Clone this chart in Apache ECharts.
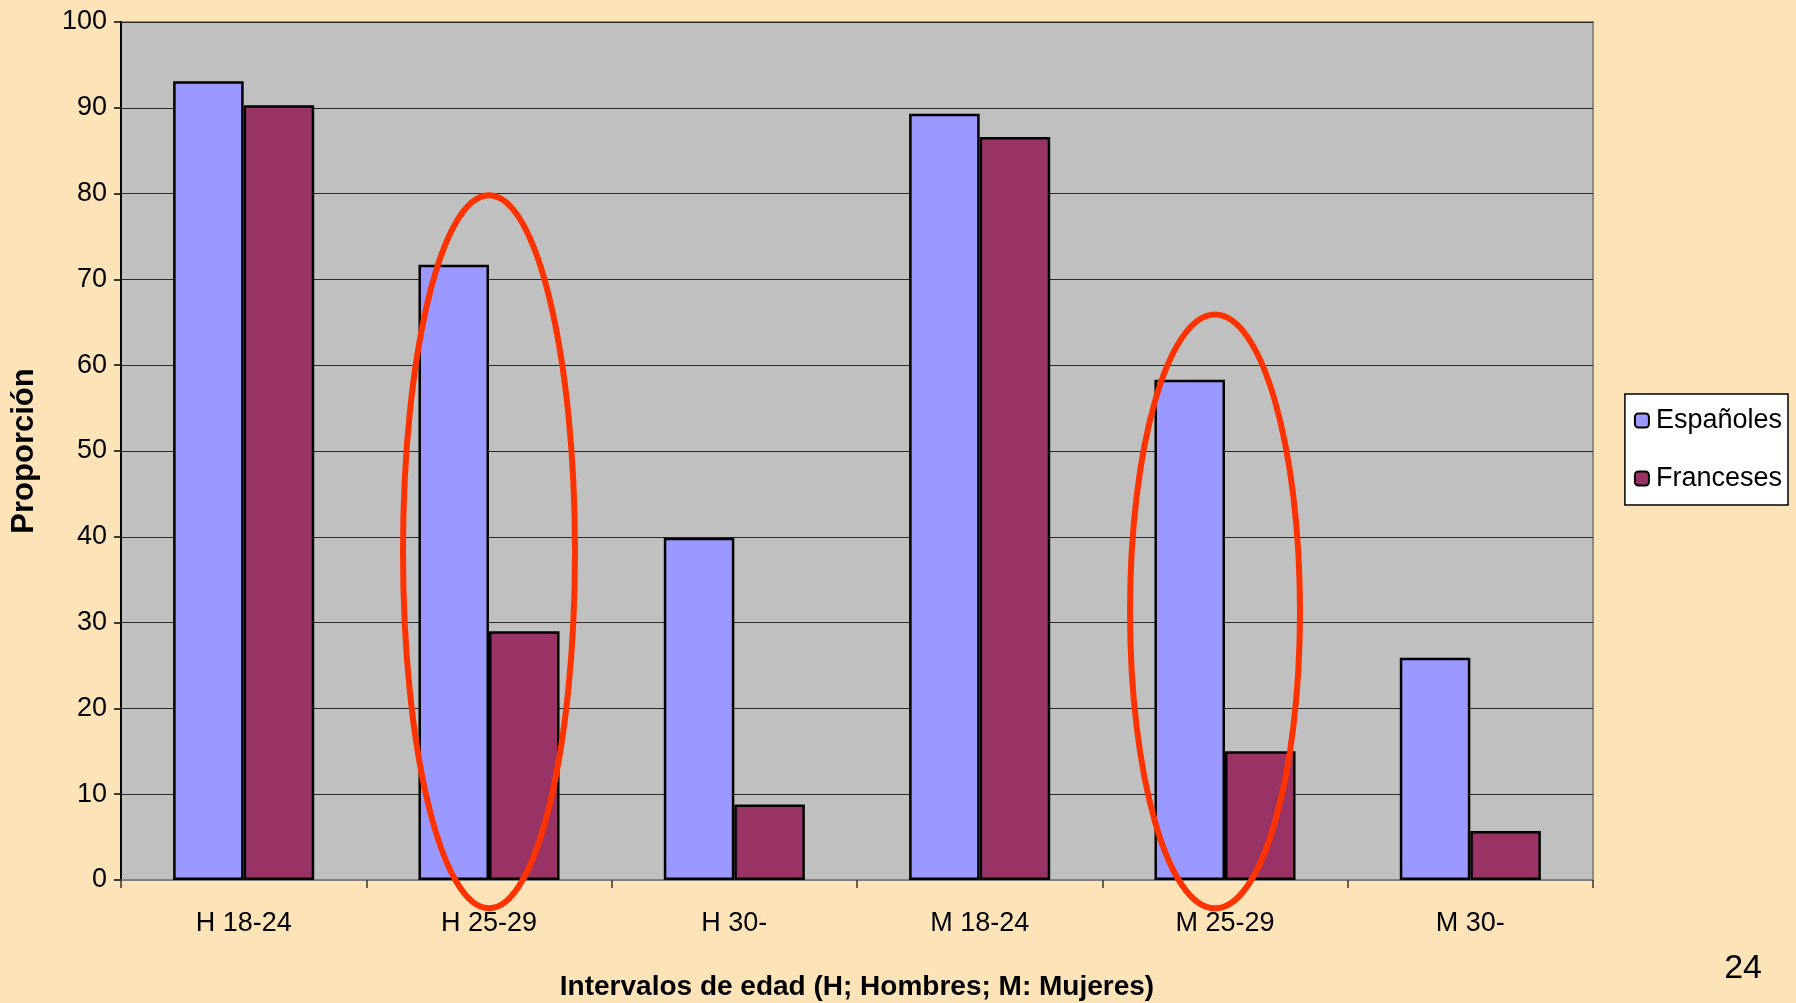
<!DOCTYPE html>
<html>
<head>
<meta charset="utf-8">
<script src="https://cdn.jsdelivr.net/npm/echarts@6/dist/echarts.min.js"></script>
<style>
  html, body { margin: 0; padding: 0; background: #FCE4B8; }
  #chart { width: 1796px; height: 1003px; }
</style>
</head>
<body>
<div id="chart"></div>
<script>
// Age groups (H = Hombres, M = Mujeres)
const categories = ['H 18-24', 'H 25-29', 'H 30-', 'M 18-24', 'M 25-29', 'M 30-'];
// Share of each group, in percent
const espanoles = [93.1, 71.7, 39.9, 89.3, 58.3, 25.9];
const franceses = [90.3, 29.0, 8.8, 86.6, 15.0, 5.7];
const seriesNames = ['Españoles', 'Franceses'];

// Highlight ellipses: category index, value range covered, half width in px, x shift in px
const highlights = [
  { cat: 1, top: 79.8, bottom: -3.3, rx: 86, dx: 0 },
  { cat: 4, top: 65.9, bottom: -3.3, rx: 85, dx: -10 }
];

const chart = echarts.init(document.getElementById('chart'));
const font = 'Liberation Sans, Arial, sans-serif';

chart.setOption({
  backgroundColor: '#FCE4B8',
  animation: false,
  textStyle: { fontFamily: font, color: '#000' },
  grid: {
    left: 121, right: 203, top: 22, bottom: 123,
    containLabel: false, outerBoundsMode: 'none',
    show: true, backgroundColor: '#C0C0C0', borderColor: '#8A8A8A', borderWidth: 2
  },
  legend: {
    orient: 'vertical',
    right: 8, top: 394,
    backgroundColor: '#FFFFFF',
    borderColor: '#000', borderWidth: 1.5,
    padding: [13, 6, 13, 9],
    itemWidth: 14, itemHeight: 14, itemGap: 31,
    textStyle: { fontSize: 27, color: '#000', fontFamily: font, padding: [0, 0, 0, 2] },
    data: seriesNames
  },
  xAxis: {
    type: 'category',
    data: categories,
    name: 'Intervalos de edad (H; Hombres; M: Mujeres)',
    nameLocation: 'middle',
    nameGap: 93,
    nameTextStyle: { fontSize: 28, fontWeight: 'bold', color: '#000' },
    axisLine: { lineStyle: { color: '#808080', width: 2 } },
    axisTick: { show: true, length: 8, lineStyle: { color: '#333', width: 1.5 } },
    axisLabel: { fontSize: 27, color: '#000', margin: 30 }
  },
  yAxis: {
    type: 'value',
    min: 0, max: 100, interval: 10,
    name: 'Proporción',
    nameLocation: 'middle',
    nameGap: 81,
    nameRotate: 90,
    nameTextStyle: { fontSize: 31, fontWeight: 'bold', color: '#000' },
    axisLine: { show: true, lineStyle: { color: '#000', width: 2 } },
    axisTick: { show: true, length: 7, lineStyle: { color: '#000', width: 1.5 } },
    axisLabel: { fontSize: 27, color: '#000', margin: 14 },
    splitLine: { lineStyle: { color: '#2A2A2A', width: 1 } }
  },
  series: [
    {
      name: seriesNames[0], type: 'bar', data: espanoles,
      barGap: '0%', barCategoryGap: '42.5%',
      itemStyle: { color: '#9999FF', borderColor: '#000', borderWidth: 2.5 }
    },
    {
      name: seriesNames[1], type: 'bar', data: franceses,
      itemStyle: { color: '#993366', borderColor: '#000', borderWidth: 2.5 }
    }
  ]
});

// Ellipses drawn around the highlighted groups, placed through the axis scales
const ellipses = highlights.map(h => {
  const pTop = chart.convertToPixel({ gridIndex: 0 }, [h.cat, h.top]);
  const pBot = chart.convertToPixel({ gridIndex: 0 }, [h.cat, h.bottom]);
  return {
    type: 'ellipse',
    z: 100,
    shape: {
      cx: pTop[0] + h.dx,
      cy: (pTop[1] + pBot[1]) / 2,
      rx: h.rx,
      ry: (pBot[1] - pTop[1]) / 2
    },
    style: { fill: 'none', stroke: '#FF3300', lineWidth: 6 }
  };
});

chart.setOption({
  graphic: ellipses.concat([
    {
      type: 'text', right: 34, top: 952, z: 100,
      style: { text: '24', fontSize: 34, fill: '#000', fontFamily: font }
    }
  ])
});
</script>
</body>
</html>
